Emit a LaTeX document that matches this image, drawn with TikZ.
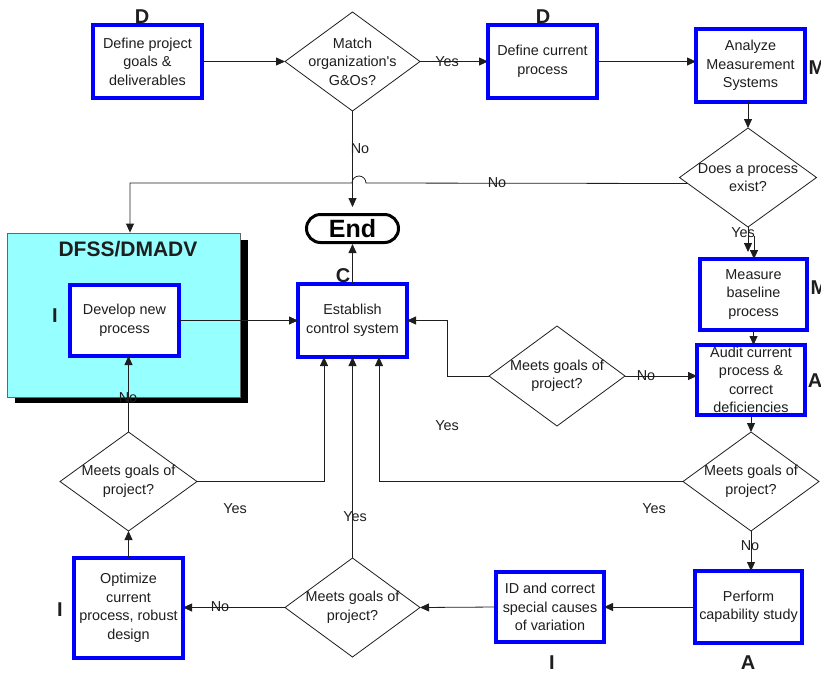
\documentclass[tikz,border=0pt]{standalone}
\usepackage{fontspec}
\setmainfont{Liberation Sans}[Ligatures=TeXOff]
\usetikzlibrary{shapes.geometric,arrows.meta,calc}

\newcommand\bodyfont{\fontsize{14.4}{18.5}\selectfont}
\newcommand\phasefont{\fontsize{20}{24}\selectfont\bfseries}
\definecolor{cyanfill}{RGB}{150,255,255}
\definecolor{inkgray}{RGB}{30,30,30}

\begin{document}
\begin{tikzpicture}[x=1pt,y=-1pt,
  stepbox/.style={draw=blue, line width=4pt, fill=white, inner sep=0pt, outer sep=0pt,
                  align=center, font=\bodyfont, text=inkgray},
  decision/.style={shape=diamond, draw=inkgray, line width=0.8pt, fill=white,
                   inner sep=0pt, outer sep=0pt},
  dtext/.style={align=center, font=\bodyfont, inner sep=0pt, text=inkgray},
  phase/.style={font=\phasefont, text=inkgray, inner sep=0pt},
  flow/.style={draw=inkgray, line width=0.8pt, -{Triangle[length=9pt,width=8pt]}},
  lbl/.style={font=\bodyfont, inner sep=0pt, text=inkgray},
]
\useasboundingbox (0,0) rectangle (821,673);

% design-for-six-sigma container with its drop shadow
\node[fill=black, minimum width=233pt, minimum height=163pt, inner sep=0pt] (dfssshadow) at (131.5,321.5) {};
\node[fill=cyanfill, draw=black!60, line width=0.8pt, minimum width=233pt, minimum height=164pt, inner sep=0pt] (dfss) at (123.5,315) {};
\node[font=\fontsize{21}{24}\selectfont\bfseries, text=inkgray, inner sep=0pt] (dfsstitle) at (128,249) {DFSS/DMADV};

% process steps
\node[stepbox, minimum width=109pt, minimum height=73pt] (goals) at (147.5,61.5) {Define project\\goals \&\\deliverables};
\node[stepbox, minimum width=109pt, minimum height=73pt] (current) at (542.5,61.5) {Define current\\process};
\node[stepbox, minimum width=109pt, minimum height=73pt] (analyze) at (750.5,65.5) {Analyze\\Measurement\\Systems};
\node[stepbox, minimum width=109pt, minimum height=71pt] (develop) at (124.5,320.5) {Develop new\\process};
\node[stepbox, minimum width=109pt, minimum height=73pt] (establish) at (352.5,320.5) {Establish\\control system};
\node[stepbox, minimum width=107pt, minimum height=71pt] (measure) at (753.5,294.5) {Measure\\baseline\\process};
\node[stepbox, minimum width=108pt, minimum height=70pt] (audit) at (751,380) {Audit current\\process \&\\correct\\deficiencies};
\node[stepbox, minimum width=107pt, minimum height=72pt] (perform) at (748.5,607) {Perform\\capability study};
\node[stepbox, minimum width=108pt, minimum height=70pt] (idc) at (550,607) {ID and correct\\special causes\\of variation};
\node[stepbox, minimum width=109pt, minimum height=100pt] (optimize) at (128.5,608) {Optimize\\current\\process, robust\\design};

% terminator
\node[draw=black, line width=3pt, rounded corners=14pt, fill=white, minimum width=92pt, minimum height=28pt,
      inner sep=0pt, font=\fontsize{25}{28}\selectfont\bfseries] (end) at (352.5,228.5) {End};

% decisions
\node[decision, minimum width=135pt, minimum height=99pt] (d1) at (352.5,61.5) {};
\node[dtext] (d1t) at (d1) {Match\\organization's\\G\&Os?};
\node[decision, minimum width=137pt, minimum height=99pt] (d2) at (748,177.5) {};
\node[dtext] (d2t) at (d2) {Does a process\\exist?};
\node[decision, minimum width=136pt, minimum height=100pt] (d3) at (557,376) {};
\node[dtext] (d3t) at (d3) {Meets goals of\\project?};
\node[decision, minimum width=136pt, minimum height=99pt] (d4) at (751,481.5) {};
\node[dtext] (d4t) at (d4) {Meets goals of\\project?};
\node[decision, minimum width=135pt, minimum height=99pt] (d5) at (352.5,607.5) {};
\node[dtext] (d5t) at (d5) {Meets goals of\\project?};
\node[decision, minimum width=137pt, minimum height=99pt] (d6) at (128.5,481.5) {};
\node[dtext] (d6t) at (d6) {Meets goals of\\project?};

% phase letters
\node[phase] (phD1) at (142,17) {D};
\node[phase] (phD2) at (543,17) {D};
\node[phase] (phM1) at (817,68) {M};
\node[phase] (phI1) at (55,316) {I};
\node[phase] (phC) at (343,276) {C};
\node[phase] (phM2) at (819,288) {M};
\node[phase] (phA1) at (815,381) {A};
\node[phase] (phA2) at (748,663) {A};
\node[phase] (phI2) at (552,663) {I};
\node[phase] (phI3) at (60,610) {I};

% helper points for bends and entries
\coordinate (nostart) at ($(d2.west)+(8,6)$);
\coordinate (hopR) at (366,183);
\coordinate (bendNo) at (130,183);
\coordinate (yesA) at (748,252);
\coordinate (yesB) at (754,236);
\coordinate (inL) at ($(establish.south)+(-28.5,0)$);
\coordinate (inR) at ($(establish.south)+(26.5,0)$);
\coordinate (bend3) at (447,376);

% connectors
\draw[flow] (goals.east) -- (d1.west);
\draw[flow] (d1.east) -- (current.west);
\draw[flow] (current.east) -- (current.east -| analyze.west);
\draw[flow] (analyze.south -| d2.north) -- (d2.north);
\draw[flow] (nostart) -- (hopR) arc[start angle=0, end angle=180, radius=7pt] -- (bendNo) -- (bendNo |- dfss.north);
\draw[flow, shorten >=6pt] (d1.south) -- (end.north);
\draw[flow] (establish.north) -- (end.south);
\draw[flow] (develop.east) -- (establish.west);
\draw[flow] (d3.west) -- (bend3) |- (establish.east);
\draw[flow] (d3.east) -- (d3.east -| audit.west);
\draw[flow] (d2.south) -- (d2.south |- yesA);
\draw[flow] (yesB) -- (yesB |- measure.north);
\draw[flow] (measure.south) -- (measure.south |- audit.north);
\draw[flow] (audit.south) -- (d4.north);
\draw[flow] (d4.west) -| (inR);
\draw[flow] (d4.south) -- (d4.south |- perform.north);
\draw[flow] (perform.west) -- (idc.east);
\draw[flow] (idc.west) -- (d5.east);
\draw[flow] (d5.north) -- (establish.south);
\draw[flow] (d5.west) -- (d5.west -| optimize.east);
\draw[flow] (optimize.north) -- (d6.south);
\draw[flow] (d6.north) -- (d6.north |- develop.south);
\draw[flow] (d6.east) -| (inL);

% branch labels
\node[lbl] (yes1) at (447,61.5) {Yes};
\node[lbl] (no1) at (360,149) {No};
\node[lbl] (no2) at (497,183) {No};
\node[lbl] (yes2) at (743,233) {Yes};
\node[lbl] (no3) at (646,376) {No};
\node[lbl] (yes3) at (447,426) {Yes};
\node[lbl] (yes4) at (654,509) {Yes};
\node[lbl] (no4) at (750,546) {No};
\node[lbl] (yes5) at (355,517) {Yes};
\node[lbl] (yes6) at (235,509) {Yes};
\node[lbl] (no5) at (220,607) {No};
\node[lbl] (no6) at (128,398) {No};
\end{tikzpicture}
\end{document}
